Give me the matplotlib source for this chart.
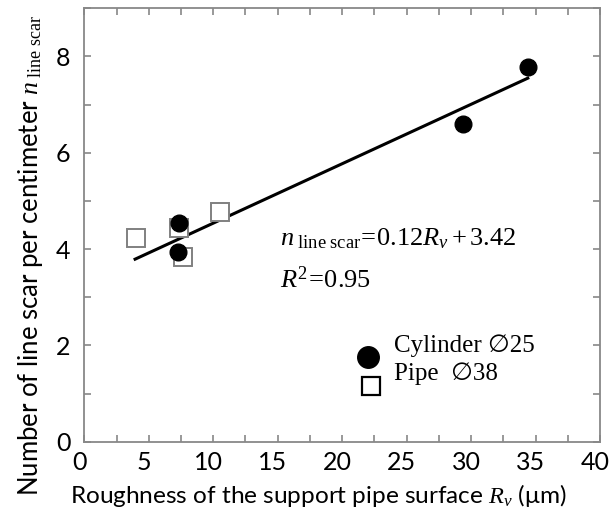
import matplotlib.pyplot as plt
import matplotlib.transforms as mtrans
import numpy as np
from matplotlib.ticker import MultipleLocator

plt.rcParams['mathtext.fontset'] = 'custom'
plt.rcParams['mathtext.rm'] = 'Liberation Serif'
plt.rcParams['mathtext.it'] = 'Liberation Serif:italic'

# data
cyl_x = [7.38, 7.25, 29.4, 34.4]
cyl_y = [4.54, 3.94, 6.60, 7.78]
pipe_x = [4.02, 7.38, 7.69, 10.54]
pipe_y = [4.24, 4.43, 3.84, 4.77]
# regression line as drawn
fit_slope, fit_icpt = 0.1234, 3.304
fit_x = [3.94, 34.4]

sans = ['Lato', 'DejaVu Sans']
serif = ['Liberation Serif', 'DejaVu Sans']

fig = plt.figure(figsize=(6.1, 5.18), dpi=100)
ax = fig.add_axes([0.1382, 0.1473, 0.8454, 0.8367])

fx = np.array(fit_x)
ax.plot(fx, fit_slope * fx + fit_icpt, color='black', lw=2.2)
ax.plot(pipe_x, pipe_y, 's', ms=13, mfc='white', mec='#808080', mew=1.4)
ax.plot(cyl_x, cyl_y, 'o', ms=12, color='black')

ax.set_xlim(0, 40)
ax.set_ylim(0, 9)
ax.xaxis.set_major_locator(MultipleLocator(5))
ax.xaxis.set_minor_locator(MultipleLocator(2.5))
ax.yaxis.set_major_locator(MultipleLocator(2))
ax.yaxis.set_minor_locator(MultipleLocator(1))
ax.tick_params(which='both', direction='in', top=True, right=True,
               color='#888888', width=1.2, length=5)
ax.tick_params(axis='x', pad=7, labelsize=18)
ax.tick_params(axis='y', pad=10, labelsize=18)
for s in ax.spines.values():
    s.set_color('#888888')
    s.set_linewidth(1.3)
# x tick labels sit a little left of their ticks in the original
shift = mtrans.ScaledTranslation(-5 / 100, 0, fig.dpi_scale_trans)
for lab in ax.get_xticklabels():
    lab.set_family(sans)
    lab.set_transform(lab.get_transform() + shift)
for lab in ax.get_yticklabels():
    lab.set_family(sans)

ax.set_xlabel(r'Roughness of the support pipe surface $\it{R}_{\it{v}}$ (μm)',
              fontsize=17.6, family=sans)
ax.xaxis.set_label_coords(0.453, -0.092)
ax.set_ylabel(r'Number of line scar per centimeter $\it{n}_{\ \rm line\ scar}$',
              fontsize=18.5, family=sans)
ax.yaxis.set_label_coords(-0.077, 0.43)

ax.text(15.2, 4.08, r'$n_{\ \rm line\ scar}\!{=}\!0.12R_v + 3.42$',
        fontsize=19, family=serif)
ax.text(15.2, 3.195, r'$R^2\!{=}\!0.95$', fontsize=19, family=serif)

# legend drawn by hand
ax.plot([0.551], [0.196], 'o', ms=15.5, color='black', transform=ax.transAxes, clip_on=False)
ax.plot([0.556], [0.129], 's', ms=13, mfc='white', mec='black', mew=1.6,
        transform=ax.transAxes, clip_on=False)
ax.text(0.6005, 0.2077, 'Cylinder \u220525', transform=ax.transAxes, fontsize=18,
        family=serif, va='baseline')
ax.text(0.6005, 0.1424, 'Pipe  \u220538', transform=ax.transAxes, fontsize=18,
        family=serif, va='baseline')

fig.savefig('out.png', dpi=100)
